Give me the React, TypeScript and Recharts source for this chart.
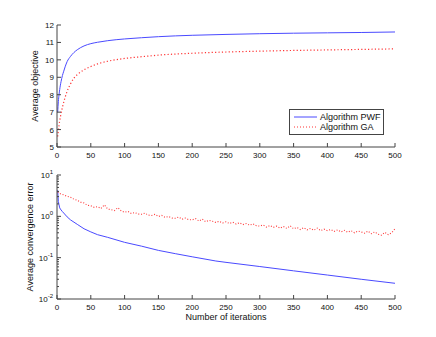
import { LineChart, Line, XAxis, YAxis, Legend } from 'recharts'

const FONT = '"Liberation Sans", Arial, Helvetica, sans-serif'
const AXIS = '#444'
const BLUE = '#4a4aff'
const RED = '#ff3535'

// upper panel: average objective
const objIter = [1, 2, 3, 4, 5, 6, 8, 10, 12, 15, 20, 25, 30, 40, 50, 60, 75, 100, 125, 150, 200, 250, 300, 350, 400, 450, 500]
const objPWF = [7.0, 7.6, 8.0, 8.3, 8.55, 8.75, 9.1, 9.35, 9.6, 9.9, 10.2, 10.42, 10.58, 10.8, 10.93, 11.01, 11.1, 11.2, 11.27, 11.33, 11.41, 11.46, 11.5, 11.53, 11.55, 11.57, 11.6]
const objGA = [5.6, 5.95, 6.25, 6.5, 6.72, 6.92, 7.27, 7.58, 7.85, 8.2, 8.62, 8.95, 9.15, 9.43, 9.62, 9.77, 9.92, 10.08, 10.18, 10.27, 10.38, 10.45, 10.5, 10.54, 10.57, 10.6, 10.63]

// lower panel: average convergence error (log scale)
const errPwfIter = [1, 2, 3, 4, 5, 8, 10, 15, 20, 30, 40, 50, 60, 75, 100, 125, 150, 175, 200, 235, 250, 300, 350, 400, 450, 500]
const errPWF = [4.3, 2.3, 1.9, 1.6, 1.5, 1.3, 1.2, 0.97, 0.82, 0.64, 0.5, 0.42, 0.36, 0.31, 0.235, 0.19, 0.15, 0.125, 0.105, 0.083, 0.077, 0.061, 0.048, 0.038, 0.03, 0.024]
const errGaIter = [
  1, 5, 10, 15, 20, 25, 30, 35, 40, 45, 50, 55, 60, 65, 70, 75, 80, 85, 90, 95,
  100, 105, 110, 115, 120, 125, 130, 135, 140, 145, 150, 155, 160, 165, 170, 175, 180, 185, 190, 195,
  200, 205, 210, 215, 220, 225, 230, 235, 240, 245, 250, 255, 260, 265, 270, 275, 280, 285, 290, 295,
  300, 305, 310, 315, 320, 325, 330, 335, 340, 345, 350, 355, 360, 365, 370, 375, 380, 385, 390, 395,
  400, 405, 410, 415, 420, 425, 430, 435, 440, 445, 450, 455, 460, 465, 470, 475, 480, 485, 490, 495, 500,
]
const errGA = [
  3.9, 3.5, 3.3, 3.05, 2.9, 2.6, 2.45, 2.2, 2.1, 1.85, 1.8, 1.65, 1.72, 1.55, 1.9, 1.5, 1.45, 1.38, 1.62, 1.35,
  1.25, 1.32, 1.17, 1.24, 1.14, 1.12, 1.2, 1.07, 1.05, 1.12, 0.99, 1.05, 0.94, 0.99, 0.91, 0.9, 0.96, 0.85, 0.91, 0.83,
  0.82, 0.88, 0.77, 0.86, 0.74, 0.8, 0.76, 0.71, 0.76, 0.69, 0.74, 0.67, 0.72, 0.65, 0.7, 0.63, 0.67, 0.61, 0.66, 0.59,
  0.58, 0.62, 0.55, 0.6, 0.54, 0.58, 0.52, 0.57, 0.51, 0.59, 0.5, 0.54, 0.48, 0.53, 0.47, 0.51, 0.46, 0.52, 0.45, 0.49,
  0.45, 0.48, 0.43, 0.47, 0.42, 0.46, 0.41, 0.45, 0.4, 0.44, 0.42, 0.39, 0.44, 0.38, 0.42, 0.37, 0.35, 0.41, 0.36, 0.4, 0.5,
]

const xTicks = [0, 50, 100, 150, 200, 250, 300, 350, 400, 450, 500]
const objTicks = [5, 6, 7, 8, 9, 10, 11, 12]
const errTicks = [
  0.01, 0.02, 0.03, 0.04, 0.05, 0.06, 0.07, 0.08, 0.09,
  0.1, 0.2, 0.3, 0.4, 0.5, 0.6, 0.7, 0.8, 0.9,
  1, 2, 3, 4, 5, 6, 7, 8, 9, 10,
]

const toRows = (iter: number[], vals: number[]) => iter.map((it, i) => ({ iter: it, v: vals[i] }))

function isDecade(v: number) {
  const l = Math.log10(v)
  return Math.abs(l - Math.round(l)) < 1e-6
}

// ticks drawn inward like matlab; labels only on left/bottom
function makeTick(side: 'left' | 'right' | 'top' | 'bottom', labels: boolean, log = false) {
  return (props: any) => {
    const { x, y, payload } = props
    const v = payload.value
    const major = !log || isDecade(v)
    const len = major ? 4 : 2
    let line
    if (side === 'left') line = <line x1={x} x2={x + len} y1={y} y2={y} stroke={AXIS} />
    else if (side === 'right') line = <line x1={x} x2={x - len} y1={y} y2={y} stroke={AXIS} />
    else if (side === 'top') line = <line x1={x} x2={x} y1={y} y2={y + len} stroke={AXIS} />
    else line = <line x1={x} x2={x} y1={y} y2={y - len} stroke={AXIS} />
    let text = null
    if (labels && side === 'left' && major) {
      text = log ? (
        <text x={x - 4} y={y + 3} textAnchor="end" fontSize={8} fontFamily={FONT} fill="#111">
          <tspan>10</tspan>
          <tspan dy={-4} fontSize={6}>{Math.round(Math.log10(v))}</tspan>
        </text>
      ) : (
        <text x={x - 3} y={y + 3} textAnchor="end" fontSize={8} fontFamily={FONT} fill="#111">{v}</text>
      )
    }
    if (labels && side === 'bottom') {
      text = (
        <text x={x} y={y + 10.5} textAnchor="middle" fontSize={8} fontFamily={FONT} fill="#111">{v}</text>
      )
    }
    return (
      <g>
        {line}
        {text}
      </g>
    )
  }
}

function LegendBox() {
  const row = (color: string, dash: string | undefined, label: string) => (
    <div style={{ display: 'flex', alignItems: 'center', height: 10 }}>
      <svg width={28} height={10} style={{ display: 'block' }}>
        <line x1={4} x2={27} y1={5} y2={5} stroke={color} strokeWidth={1} strokeDasharray={dash} />
      </svg>
      <span style={{ fontSize: 9, fontFamily: FONT, color: '#111', marginLeft: 2, lineHeight: '10px' }}>{label}</span>
    </div>
  )
  return (
    <div style={{ border: `1px solid ${AXIS}`, background: '#fff', width: 95, height: 26, boxSizing: 'border-box', paddingTop: 2 }}>
      {row(BLUE, undefined, 'Algorithm PWF')}
      {row(RED, '1 2', 'Algorithm GA')}
    </div>
  )
}

const labelStyle = { fontSize: 9, fontFamily: FONT, fill: '#111' }

export default function App() {
  return (
    <div style={{ position: 'absolute', left: 0, top: 0, width: 436, height: 337, background: '#fff' }}>
      <LineChart width={436} height={165} margin={{ top: 25, right: 41, bottom: 0, left: 0 }}>
        <XAxis xAxisId="b" dataKey="iter" type="number" domain={[0, 500]} allowDataOverflow ticks={xTicks} interval={0}
          height={18} tickSize={0} tickMargin={0} tickLine={false} axisLine={{ stroke: AXIS }} tick={makeTick('bottom', true)} />
        <XAxis xAxisId="t" orientation="top" type="number" domain={[0, 500]} ticks={xTicks} interval={0}
          height={0} tickSize={0} tickMargin={0} tickLine={false} axisLine={{ stroke: AXIS }} tick={makeTick('top', false)} />
        <YAxis yAxisId="l" type="number" domain={[5, 12]} allowDataOverflow ticks={objTicks} interval={0}
          width={57} tickSize={0} tickMargin={0} tickLine={false} axisLine={{ stroke: AXIS }} tick={makeTick('left', true)}
          label={{ value: 'Average objective', angle: -90, position: 'center', dx: 6, ...labelStyle }} />
        <YAxis yAxisId="r" orientation="right" type="number" domain={[5, 12]} ticks={objTicks} interval={0}
          width={0} tickSize={0} tickMargin={0} tickLine={false} axisLine={{ stroke: AXIS }} tick={makeTick('right', false)} />
        <Legend layout="horizontal" verticalAlign="middle" align="center" content={() => <LegendBox />}
          wrapperStyle={{ position: 'absolute', left: 289, top: 109, width: 96, height: 27 }} />
        <Line xAxisId="b" yAxisId="l" data={toRows(objIter, objPWF)} dataKey="v" name="Algorithm PWF" type="monotone"
          stroke={BLUE} strokeWidth={1} dot={false} isAnimationActive={false} />
        <Line xAxisId="b" yAxisId="l" data={toRows(objIter, objGA)} dataKey="v" name="Algorithm GA" type="monotone"
          stroke={RED} strokeWidth={1.2} strokeDasharray="1.2 2.2" dot={false} isAnimationActive={false} />
      </LineChart>
      <LineChart width={436} height={172} margin={{ top: 10, right: 41, bottom: 0, left: 0 }}>
        <XAxis xAxisId="b" dataKey="iter" type="number" domain={[0, 500]} allowDataOverflow ticks={xTicks} interval={0}
          height={38} tickSize={0} tickMargin={0} tickLine={false} axisLine={{ stroke: AXIS }} tick={makeTick('bottom', true)}
          label={{ value: 'Number of iterations', position: 'center', dy: -1, ...labelStyle }} />
        <XAxis xAxisId="t" orientation="top" type="number" domain={[0, 500]} ticks={xTicks} interval={0}
          height={0} tickSize={0} tickMargin={0} tickLine={false} axisLine={{ stroke: AXIS }} tick={makeTick('top', false)} />
        <YAxis yAxisId="l" type="number" scale="log" domain={[0.01, 10]} allowDataOverflow ticks={errTicks} interval={0}
          width={57} tickSize={0} tickMargin={0} tickLine={false} axisLine={{ stroke: AXIS }} tick={makeTick('left', true, true)}
          label={{ value: 'Average convergence error', angle: -90, position: 'center', dx: 1.5, ...labelStyle }} />
        <YAxis yAxisId="r" orientation="right" type="number" scale="log" domain={[0.01, 10]} allowDataOverflow ticks={errTicks} interval={0}
          width={0} tickSize={0} tickMargin={0} tickLine={false} axisLine={{ stroke: AXIS }} tick={makeTick('right', false, true)} />
        <Line xAxisId="b" yAxisId="l" data={toRows(errPwfIter, errPWF)} dataKey="v" type="linear"
          stroke={BLUE} strokeWidth={1} dot={false} isAnimationActive={false} />
        <Line xAxisId="b" yAxisId="l" data={toRows(errGaIter, errGA)} dataKey="v" type="linear"
          stroke={RED} strokeWidth={1.1} strokeDasharray="1 1.8" dot={false} isAnimationActive={false} />
      </LineChart>
    </div>
  )
}
